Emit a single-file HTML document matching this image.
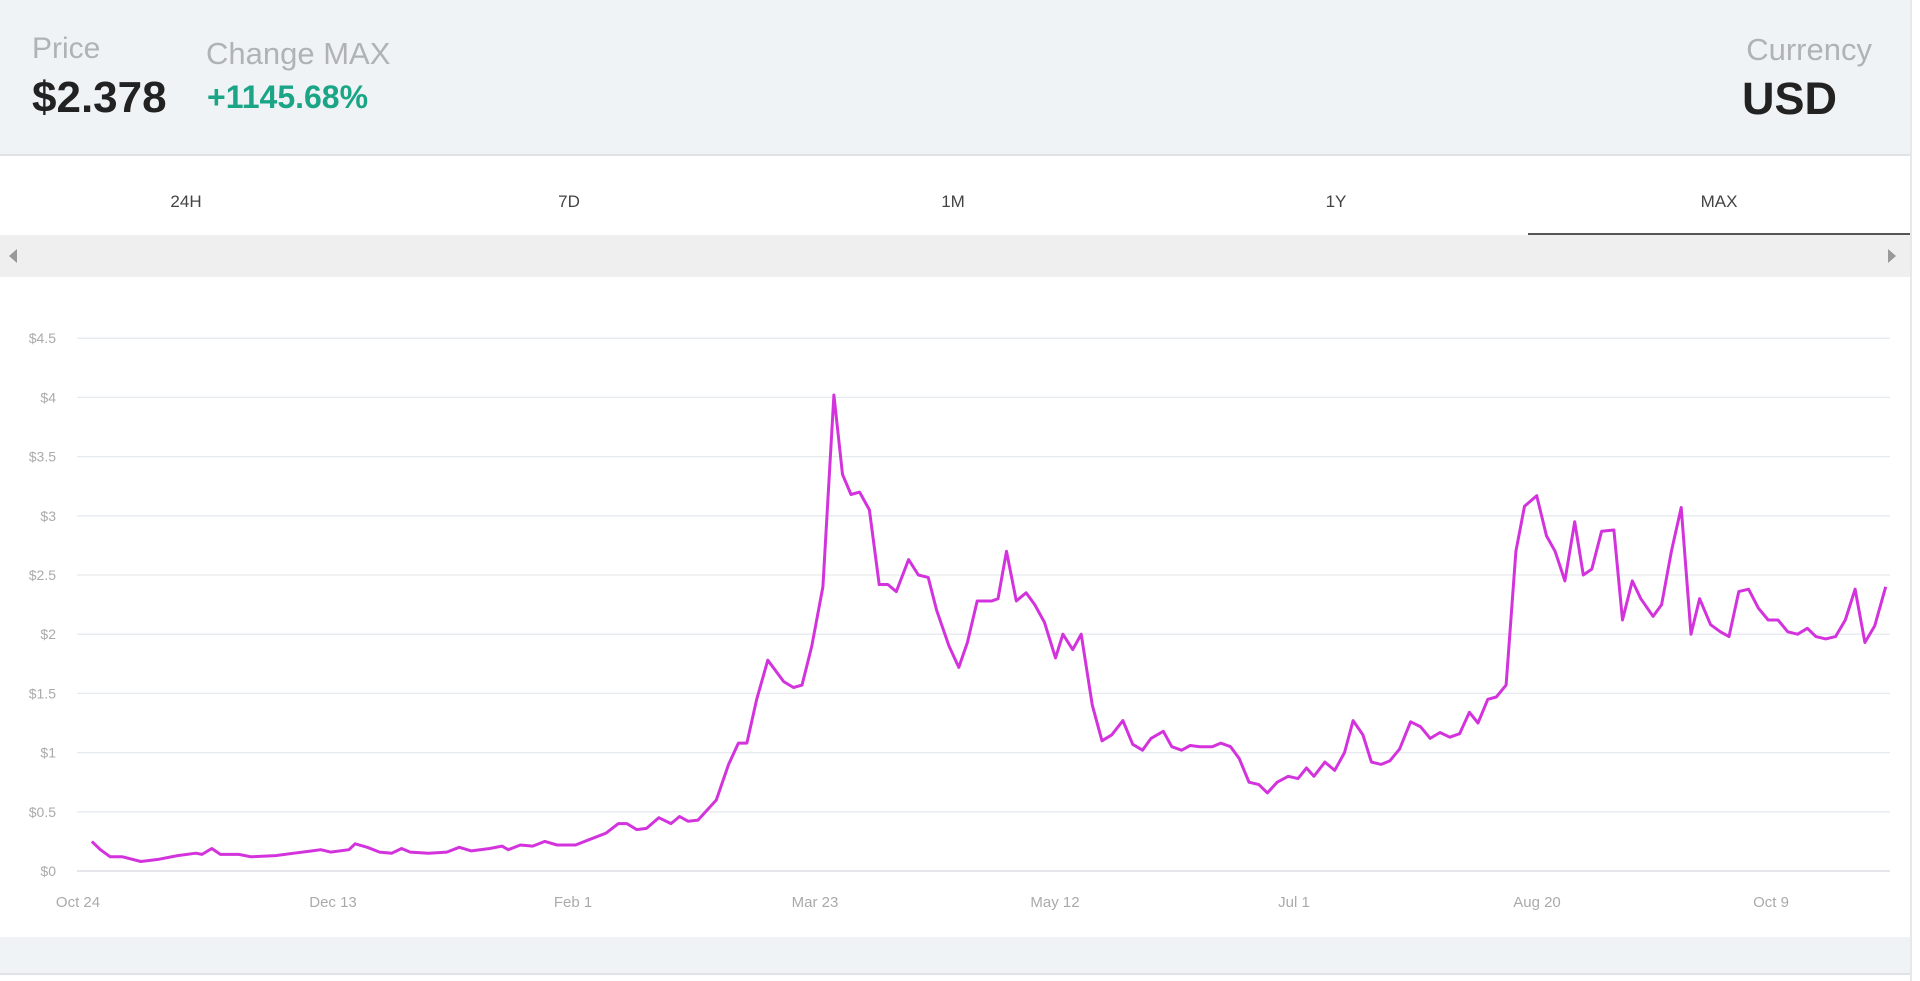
<!DOCTYPE html>
<html><head><meta charset="utf-8"><style>
html,body{margin:0;padding:0;width:1920px;height:981px;overflow:hidden;background:#fff;font-family:"Liberation Sans",sans-serif;}
.hdr{position:absolute;left:0;top:0;width:1910px;height:154px;background:#f0f3f6;border-bottom:2px solid #e0e3e6;}
.t{position:absolute;white-space:nowrap;}
.lab{color:#b0b3b6;font-size:30px;}
.val{color:#222;font-weight:bold;font-size:44px;}
.tab{position:absolute;top:192px;font-size:17px;color:#444;transform:translateX(-50%);}
</style></head><body>
<div class="hdr"></div>
<div class="t lab" style="left:32px;top:32px;">Price</div>
<div class="t val" style="left:32px;top:73px;">$2.378</div>
<div class="t lab" style="left:206px;top:36px;font-size:31px;">Change MAX</div>
<div class="t" style="left:207px;top:79px;color:#1aa586;font-weight:bold;font-size:32px;">+1145.68%</div>
<div class="t lab" style="right:48px;top:32px;font-size:31px;">Currency</div>
<div class="t val" style="right:83px;top:73px;font-size:45px;">USD</div>
<div style="position:absolute;left:1910px;top:0;width:2px;height:981px;background:#e6e8ea"></div>
<div class="tab" style="left:186px">24H</div>
<div class="tab" style="left:569px">7D</div>
<div class="tab" style="left:953px">1M</div>
<div class="tab" style="left:1336px">1Y</div>
<div class="tab" style="left:1719px">MAX</div>
<div style="position:absolute;left:1528px;top:233px;width:382px;height:2px;background:#555"></div>
<div style="position:absolute;left:0;top:235px;width:1910px;height:42px;background:#efefef"></div>
<div style="position:absolute;left:9px;top:249px;width:0;height:0;border-top:7px solid transparent;border-bottom:7px solid transparent;border-right:8px solid #999"></div>
<div style="position:absolute;left:1888px;top:249px;width:0;height:0;border-top:7px solid transparent;border-bottom:7px solid transparent;border-left:8px solid #999"></div>
<div style="position:absolute;left:0;top:937px;width:1910px;height:36px;background:#f0f3f6;border-bottom:2px solid #e0e3e6"></div>
<svg id="c" style="position:absolute;left:0;top:0" width="1920" height="981"></svg>
<script>
var s=1.2245,svg=document.getElementById('c'),h='';
for(var i=0;i<=9;i++){var y=871-i*59.2;h+='<line x1="77" x2="1890" y1="'+y+'" y2="'+y+'" stroke="'+(i==0?'#d4d8e0':'#e6e9ee')+'" stroke-width="1.3"/>';
var l=i==0?'$0':'$'+(i/2);h+='<text x="56" y="'+(y+5)+'" text-anchor="end" font-size="14" fill="#aaa" font-family="Liberation Sans">'+l+'</text>';}
var xl=[[78,'Oct 24'],[333,'Dec 13'],[573,'Feb 1'],[815,'Mar 23'],[1055,'May 12'],[1294,'Jul 1'],[1537,'Aug 20'],[1771,'Oct 9']];
xl.forEach(function(a){h+='<text x="'+a[0]+'" y="907" text-anchor="middle" font-size="15" fill="#aaa" font-family="Liberation Sans">'+a[1]+'</text>';});
var d=[75,.25,82,.18,90,.12,100,.12,115,.08,130,.10,145,.13,160,.15,165,.14,173,.19,180,.14,195,.14,205,.12,225,.13,240,.15,255,.17,262,.18,270,.16,285,.18,290,.23,300,.2,310,.16,320,.15,328,.19,335,.16,350,.15,365,.16,375,.2,385,.17,400,.19,410,.21,415,.18,425,.22,435,.21,445,.25,455,.22,470,.22,485,.28,495,.32,505,.4,512,.4,520,.35,528,.36,538,.45,548,.4,555,.46,562,.42,570,.43,585,.6,595,.9,603,1.08,610,1.08,618,1.45,627,1.78,640,1.6,648,1.55,655,1.57,663,1.9,672,2.4,681,4.02,688,3.35,695,3.18,702,3.2,710,3.05,718,2.42,725,2.42,732,2.36,742,2.63,750,2.5,758,2.48,765,2.2,775,1.9,783,1.72,790,1.93,798,2.28,810,2.28,815,2.3,822,2.7,830,2.28,838,2.35,845,2.25,853,2.1,862,1.8,868,2.0,876,1.87,883,2.0,892,1.4,900,1.1,908,1.15,917,1.27,925,1.07,933,1.02,940,1.12,950,1.18,957,1.05,965,1.02,972,1.06,980,1.05,990,1.05,997,1.08,1005,1.05,1012,.95,1020,.75,1028,.73,1035,.66,1043,.75,1052,.8,1060,.78,1067,.87,1073,.8,1082,.92,1090,.85,1098,1.0,1105,1.27,1113,1.15,1120,.92,1128,.9,1135,.93,1143,1.03,1152,1.26,1160,1.22,1168,1.12,1176,1.17,1184,1.13,1192,1.16,1200,1.34,1207,1.25,1215,1.45,1222,1.47,1230,1.57,1238,2.7,1245,3.08,1255,3.17,1263,2.83,1270,2.7,1278,2.45,1286,2.95,1293,2.5,1300,2.55,1308,2.87,1318,2.88,1325,2.12,1333,2.45,1340,2.3,1350,2.15,1357,2.25,1365,2.7,1373,3.07,1381,2.0,1388,2.3,1397,2.08,1405,2.02,1412,1.98,1420,2.36,1428,2.38,1436,2.22,1444,2.12,1452,2.12,1460,2.02,1468,2.0,1476,2.05,1483,1.98,1491,1.96,1499,1.98,1507,2.12,1515,2.38,1523,1.93,1531,2.07,1540,2.4];
var p='';for(var j=0;j<d.length;j+=2){p+=(j?'L':'M')+(d[j]*s).toFixed(1)+','+(871-d[j+1]*118.4).toFixed(1);}
h+='<path d="'+p+'" fill="none" stroke="#d333dc" stroke-width="3" stroke-linejoin="round"/>';
svg.innerHTML=h;
</script>
</body></html>
